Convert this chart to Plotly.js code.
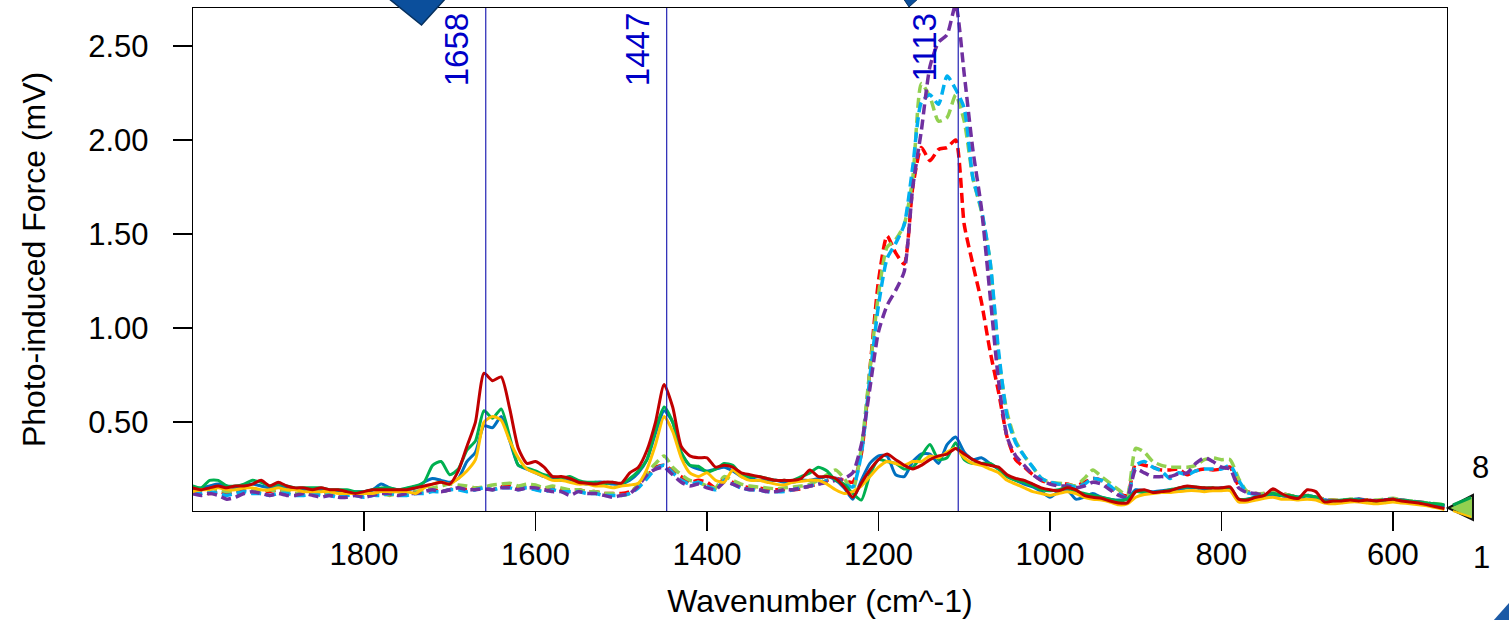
<!DOCTYPE html>
<html>
<head>
<meta charset="utf-8">
<script src="https://cdn.plot.ly/plotly-3.0.1.min.js"></script>
<style>html,body{margin:0;padding:0;background:#fff;}#chart{width:1509px;height:620px;}</style>
</head>
<body>
<div id="chart"></div>
<script>
// ---- data ----
const wavenumber = [2000,1990,1980,1970,1960,1950,1940,1930,1920,1910,1900,1890,1880,1870,1860,1850,1840,1830,1820,1810,1800,1790,1780,1770,1760,1750,
1740,1730,1720,1710,1700,1690,1680,1670,1660,1650,1640,1630,1620,1610,1600,1590,1580,1570,1560,
1550,1540,1530,1520,1510,1500,1490,1480,1470,1460,1450,1440,1430,1420,1410,1400,1390,1380,1370,1360,1350,1340,1330,1320,1310,
1300,1290,1280,1270,1260,1250,1240,1230,1220,1210,1200,1190,1180,1170,1160,1150,1140,1130,1120,1110,1100,1090,1080,1070,1060,1050,1040,1030,1020,1010,1000,
990,980,970,960,950,940,930,920,910,900,890,880,870,860,850,840,830,820,810,800,790,780,770,760,750,740,730,720,710,700,690,680,670,660,650,640,630,620,610,600,590,580,570,560,550,540];

const solidBlue = [0.14,0.15,0.16,0.17,0.16,0.15,0.16,0.17,0.16,0.15,0.16,0.15,0.145,0.14,0.14,0.14,0.135,0.13,0.13,0.13,0.13,0.14,0.17,0.15,0.14,0.14,
0.15,0.18,0.20,0.19,0.18,0.20,0.29,0.34,0.48,0.47,0.53,0.40,0.27,0.25,0.23,0.21,0.20,0.19,0.19,
0.18,0.17,0.18,0.18,0.17,0.17,0.19,0.23,0.30,0.44,0.56,0.50,0.33,0.27,0.25,0.24,0.25,0.26,0.24,0.21,0.20,0.19,0.19,0.19,0.18,
0.18,0.19,0.19,0.20,0.21,0.19,0.15,0.09,0.19,0.28,0.32,0.32,0.22,0.21,0.29,0.33,0.33,0.28,0.38,0.42,0.34,0.30,0.31,0.28,0.25,0.21,0.19,0.17,0.155,0.13,0.10,
0.13,0.14,0.09,0.10,0.12,0.10,0.09,0.085,0.09,0.14,0.135,0.13,0.135,0.14,0.14,0.15,0.15,0.14,0.145,0.15,0.15,0.085,0.09,0.10,0.10,0.11,0.11,0.105,0.10,0.11,0.10,0.075,0.07,0.075,0.08,0.09,0.08,0.075,0.08,0.085,0.08,0.075,0.07,0.065,0.06,0.055];

const solidGreen = [0.16,0.15,0.19,0.19,0.16,0.16,0.17,0.19,0.18,0.16,0.17,0.16,0.15,0.15,0.15,0.15,0.14,0.14,0.14,0.13,0.13,0.14,0.15,0.15,0.14,0.15,
0.16,0.18,0.27,0.29,0.22,0.25,0.35,0.40,0.56,0.52,0.57,0.42,0.27,0.255,0.24,0.22,0.21,0.20,0.21,
0.19,0.18,0.18,0.17,0.18,0.17,0.20,0.24,0.30,0.46,0.58,0.50,0.34,0.27,0.265,0.235,0.25,0.28,0.27,0.22,0.21,0.21,0.20,0.19,0.19,
0.19,0.21,0.23,0.26,0.24,0.19,0.17,0.12,0.085,0.22,0.30,0.29,0.28,0.25,0.26,0.32,0.38,0.30,0.31,0.39,0.30,0.28,0.28,0.28,0.25,0.21,0.19,0.18,0.16,0.14,0.135,
0.14,0.15,0.13,0.12,0.11,0.10,0.09,0.08,0.09,0.13,0.125,0.125,0.13,0.14,0.15,0.155,0.155,0.15,0.15,0.145,0.15,0.09,0.09,0.10,0.11,0.12,0.11,0.11,0.10,0.11,0.10,0.08,0.08,0.085,0.09,0.085,0.08,0.075,0.08,0.085,0.085,0.08,0.075,0.07,0.065,0.06];

const solidYellow = [0.13,0.14,0.14,0.15,0.14,0.14,0.15,0.15,0.14,0.14,0.15,0.14,0.14,0.13,0.13,0.13,0.13,0.12,0.12,0.12,0.12,0.12,0.13,0.13,0.13,0.13,
0.12,0.15,0.17,0.18,0.17,0.20,0.24,0.30,0.50,0.53,0.51,0.40,0.31,0.25,0.23,0.21,0.19,0.19,0.18,
0.17,0.17,0.16,0.16,0.15,0.16,0.165,0.175,0.25,0.38,0.53,0.45,0.31,0.23,0.21,0.23,0.19,0.18,0.245,0.21,0.19,0.19,0.18,0.17,0.165,
0.18,0.185,0.19,0.19,0.17,0.14,0.12,0.13,0.16,0.21,0.26,0.29,0.28,0.27,0.29,0.29,0.32,0.31,0.34,0.36,0.31,0.28,0.27,0.25,0.23,0.19,0.17,0.15,0.13,0.12,0.11,
0.12,0.13,0.12,0.10,0.09,0.085,0.075,0.06,0.065,0.10,0.115,0.12,0.125,0.125,0.13,0.135,0.135,0.13,0.135,0.135,0.135,0.075,0.075,0.085,0.095,0.10,0.09,0.09,0.085,0.09,0.085,0.07,0.065,0.07,0.075,0.075,0.07,0.065,0.07,0.075,0.07,0.065,0.06,0.055,0.045,0.035];

const solidDarkRed = [0.15,0.14,0.15,0.16,0.15,0.16,0.16,0.17,0.19,0.16,0.18,0.16,0.15,0.15,0.14,0.15,0.14,0.14,0.13,0.12,0.13,0.14,0.14,0.14,0.14,0.14,
0.15,0.16,0.17,0.18,0.17,0.24,0.37,0.50,0.76,0.72,0.74,0.57,0.36,0.28,0.29,0.26,0.21,0.21,0.20,
0.18,0.175,0.17,0.18,0.18,0.175,0.23,0.26,0.35,0.50,0.70,0.58,0.37,0.32,0.31,0.31,0.26,0.27,0.26,0.23,0.22,0.21,0.20,0.19,0.19,
0.19,0.20,0.245,0.21,0.21,0.20,0.155,0.10,0.175,0.245,0.30,0.33,0.30,0.27,0.25,0.27,0.30,0.32,0.33,0.36,0.33,0.30,0.28,0.27,0.26,0.22,0.20,0.19,0.17,0.15,0.14,
0.135,0.15,0.14,0.11,0.10,0.095,0.08,0.07,0.07,0.13,0.14,0.125,0.13,0.135,0.15,0.16,0.155,0.15,0.15,0.15,0.155,0.09,0.085,0.10,0.11,0.145,0.12,0.10,0.095,0.14,0.13,0.075,0.08,0.08,0.085,0.08,0.085,0.08,0.085,0.09,0.08,0.075,0.07,0.06,0.05,0.04];

const dashRed = [0.12,0.13,0.12,0.13,0.12,0.13,0.14,0.13,0.12,0.13,0.14,0.13,0.12,0.12,0.13,0.12,0.12,0.11,0.12,0.12,0.11,0.12,0.12,0.12,0.13,0.12,
0.13,0.13,0.14,0.13,0.14,0.15,0.14,0.15,0.15,0.14,0.155,0.16,0.15,0.16,0.15,0.14,0.15,0.14,0.14,
0.14,0.13,0.13,0.12,0.12,0.12,0.13,0.16,0.21,0.26,0.27,0.24,0.21,0.18,0.19,0.18,0.15,0.20,0.18,0.16,0.15,0.15,0.14,0.14,0.14,
0.14,0.145,0.16,0.17,0.19,0.20,0.19,0.18,0.33,0.78,1.25,1.49,1.40,1.34,1.75,1.96,1.89,1.95,1.96,2.00,1.55,1.34,1.14,0.88,0.66,0.42,0.30,0.26,0.22,0.19,0.175,
0.17,0.17,0.16,0.18,0.20,0.19,0.15,0.12,0.11,0.28,0.27,0.26,0.245,0.245,0.25,0.22,0.24,0.25,0.245,0.25,0.26,0.16,0.13,0.12,0.12,0.13,0.12,0.11,0.10,0.11,0.10,0.09,0.085,0.08,0.085,0.09,0.085,0.08,0.085,0.09,0.08,0.075,0.07,0.065,0.06,0.05];

const dashLightGreen = [0.13,0.14,0.15,0.14,0.13,0.14,0.15,0.14,0.13,0.14,0.13,0.13,0.12,0.13,0.12,0.12,0.12,0.11,0.12,0.11,0.11,0.12,0.12,0.11,0.12,0.12,
0.13,0.14,0.15,0.16,0.17,0.165,0.16,0.15,0.155,0.165,0.17,0.175,0.16,0.17,0.165,0.15,0.16,0.15,0.14,
0.14,0.13,0.13,0.12,0.12,0.11,0.12,0.17,0.23,0.28,0.32,0.26,0.22,0.19,0.18,0.16,0.15,0.21,0.19,0.17,0.16,0.155,0.15,0.145,0.15,
0.155,0.16,0.17,0.19,0.22,0.245,0.20,0.14,0.36,0.78,1.18,1.43,1.47,1.55,1.80,2.30,2.23,2.10,2.12,2.24,2.10,1.80,1.62,1.36,0.85,0.55,0.40,0.32,0.26,0.20,0.18,
0.175,0.17,0.16,0.20,0.245,0.21,0.175,0.14,0.11,0.36,0.34,0.29,0.27,0.26,0.26,0.26,0.27,0.30,0.31,0.30,0.30,0.20,0.13,0.12,0.12,0.125,0.12,0.11,0.10,0.105,0.10,0.09,0.085,0.085,0.09,0.09,0.085,0.085,0.09,0.095,0.085,0.08,0.075,0.07,0.065,0.06];

const dashCyan = [0.12,0.12,0.13,0.12,0.11,0.12,0.13,0.12,0.12,0.11,0.12,0.12,0.11,0.11,0.12,0.11,0.11,0.10,0.11,0.11,0.10,0.11,0.11,0.12,0.11,0.11,
0.12,0.12,0.13,0.13,0.14,0.14,0.13,0.14,0.15,0.14,0.15,0.15,0.14,0.15,0.14,0.13,0.14,0.13,0.13,
0.13,0.12,0.12,0.11,0.11,0.11,0.12,0.15,0.20,0.25,0.27,0.23,0.19,0.17,0.18,0.16,0.14,0.19,0.17,0.15,0.14,0.14,0.13,0.13,0.13,
0.14,0.15,0.16,0.17,0.19,0.20,0.17,0.155,0.33,0.74,1.12,1.37,1.45,1.55,1.86,2.20,2.24,2.19,2.34,2.27,2.17,1.80,1.63,1.36,0.88,0.53,0.39,0.32,0.26,0.20,0.18,
0.17,0.165,0.155,0.17,0.20,0.19,0.16,0.12,0.10,0.27,0.29,0.26,0.24,0.20,0.23,0.22,0.24,0.25,0.25,0.25,0.27,0.19,0.125,0.115,0.11,0.12,0.11,0.105,0.10,0.10,0.095,0.085,0.08,0.08,0.085,0.09,0.08,0.08,0.085,0.09,0.08,0.075,0.07,0.065,0.06,0.055];

const dashPurple = [0.12,0.11,0.12,0.11,0.09,0.10,0.12,0.13,0.12,0.11,0.12,0.11,0.11,0.12,0.11,0.10,0.11,0.10,0.10,0.11,0.10,0.11,0.12,0.12,0.11,0.12,
0.12,0.13,0.14,0.13,0.14,0.15,0.14,0.14,0.145,0.14,0.15,0.15,0.14,0.15,0.15,0.14,0.13,0.13,0.11,
0.13,0.12,0.12,0.11,0.10,0.11,0.12,0.16,0.22,0.25,0.26,0.22,0.18,0.16,0.17,0.15,0.14,0.18,0.17,0.15,0.14,0.14,0.13,0.13,0.14,
0.14,0.15,0.16,0.17,0.18,0.19,0.20,0.23,0.38,0.68,0.98,1.12,1.20,1.30,1.75,2.05,2.39,2.52,2.56,2.72,2.35,1.95,1.64,1.18,0.72,0.42,0.32,0.27,0.22,0.19,0.17,
0.16,0.16,0.15,0.16,0.18,0.17,0.14,0.11,0.10,0.25,0.23,0.21,0.21,0.21,0.225,0.23,0.28,0.31,0.29,0.26,0.25,0.15,0.125,0.12,0.11,0.12,0.11,0.10,0.095,0.10,0.095,0.085,0.08,0.08,0.085,0.09,0.085,0.08,0.085,0.09,0.085,0.08,0.075,0.07,0.06,0.055];

const markerPositions = [1658, 1447, 1107];
const markerLabels = ["1658", "1447", "1113"];
const markerLabelPositions = [1658, 1447, 1113];

const yTickValues = [0.5, 1.0, 1.5, 2.0, 2.5];
const xTickValues = [1800, 1600, 1400, 1200, 1000, 800, 600];

// ---- styling ----
const series = [
  {y: dashRed,        color: '#ff0000', dash: true},
  {y: dashLightGreen, color: '#92d050', dash: true},
  {y: dashCyan,       color: '#00b0f0', dash: true},
  {y: dashPurple,     color: '#7030a0', dash: true},
  {y: solidBlue,      color: '#0070c0', dash: false},
  {y: solidGreen,     color: '#00b050', dash: false},
  {y: solidYellow,    color: '#ffc000', dash: false},
  {y: solidDarkRed,   color: '#c00000', dash: false}
];

const traces = series.map(s => ({
  type: 'scatter', mode: 'lines', x: wavenumber, y: s.y,
  line: {color: s.color, width: s.dash ? 3.5 : 3, dash: s.dash ? '10px,5px' : 'solid', shape: 'spline', smoothing: 0.6},
  hoverinfo: 'skip', showlegend: false
}));

const W = 1509, H = 620, L = 193, R = 1447, T = 8, B = 511;
const px = x => (x - L) / (R - L);
const py = y => (B - y) / (B - T);
const pathOf = pts => 'M ' + pts.map(p => px(p[0]) + ',' + py(p[1])).join(' L ') + ' Z';

const shapes = markerPositions.map(p => ({
  type: 'line', xref: 'x', yref: 'paper', x0: p, x1: p, y0: 0, y1: 1,
  line: {color: '#2323b4', width: 1.2}
}));

// cursor glyphs
shapes.push({type: 'path', xref: 'paper', yref: 'paper', path: pathOf([[388,-2],[446,-2],[421.5,25]]), fillcolor: '#0b4f9c', line: {color: '#06305e', width: 1.5}});
shapes.push({type: 'path', xref: 'paper', yref: 'paper', path: pathOf([[903,-2],[919,-2],[909,7]]), fillcolor: '#0b4f9c', line: {color: '#06305e', width: 1}});
shapes.push({type: 'path', xref: 'paper', yref: 'paper', path: pathOf([[1448,508],[1473,495],[1473,520]]), fillcolor: '#92d050', line: {color: '#111111', width: 2}});
shapes.push({type: 'line', xref: 'paper', yref: 'paper', x0: px(1453), y0: py(505), x1: px(1471), y1: py(497.5), line: {color: '#00a04a', width: 3}});
shapes.push({type: 'line', xref: 'paper', yref: 'paper', x0: px(1453), y0: py(511), x1: px(1471), y1: py(517), line: {color: '#ffc000', width: 2}});
shapes.push({type: 'path', xref: 'paper', yref: 'paper', path: pathOf([[1510,602],[1510,621],[1493,621]]), fillcolor: '#1c5aa6', line: {color: '#1c5aa6', width: 0}});

const fam = 'Liberation Sans, Arial, sans-serif';
const annotations = markerLabels.map((t, i) => ({
  xref: 'x', yref: 'paper', x: markerLabelPositions[i], y: 1, yanchor: 'top', xanchor: 'center',
  xshift: -29, yshift: -3, text: t, textangle: -90, showarrow: false,
  font: {family: fam, size: 33, color: '#0000c8'}
}));
annotations.push({xref: 'paper', yref: 'paper', x: px(1480), y: py(467), xanchor: 'center', yanchor: 'middle', text: '8', showarrow: false, font: {family: fam, size: 31, color: '#000'}});
annotations.push({xref: 'paper', yref: 'paper', x: px(1482), y: py(557), xanchor: 'center', yanchor: 'middle', text: '1', showarrow: false, font: {family: fam, size: 31, color: '#000'}});

const tickFont = {family: fam, size: 31, color: '#000'};
const titleFont = {family: fam, size: 32, color: '#000'};

const layout = {
  width: W, height: H,
  margin: {l: L, r: W - R, t: T, b: H - B, pad: 0},
  paper_bgcolor: '#fff', plot_bgcolor: '#fff',
  font: tickFont,
  showlegend: false,
  xaxis: {
    range: [1999.4, 537], tickvals: xTickValues, ticktext: xTickValues.map(String),
    ticks: 'outside', ticklen: 19, tickwidth: 1.5, tickcolor: '#000',
    showline: true, mirror: true, linecolor: '#000', linewidth: 1.3,
    showgrid: false, zeroline: false, ticklabelstandoff: -4,
    tickfont: tickFont,
    title: {text: 'Wavenumber (cm^-1)', font: titleFont, standoff: 19}
  },
  yaxis: {
    range: [0.027, 2.702], tickvals: yTickValues, ticktext: yTickValues.map(v => v.toFixed(2)),
    ticks: 'outside', ticklen: 19, tickwidth: 1.5, tickcolor: '#000',
    showline: true, mirror: true, linecolor: '#000', linewidth: 1.3,
    showgrid: false, zeroline: false, ticklabelstandoff: 18,
    tickfont: tickFont,
    title: {text: 'Photo-induced Force (mV)', font: titleFont, standoff: 33}
  },
  shapes: shapes,
  annotations: annotations
};

Plotly.newPlot('chart', traces, layout, {staticPlot: true, displayModeBar: false});
</script>
</body>
</html>
